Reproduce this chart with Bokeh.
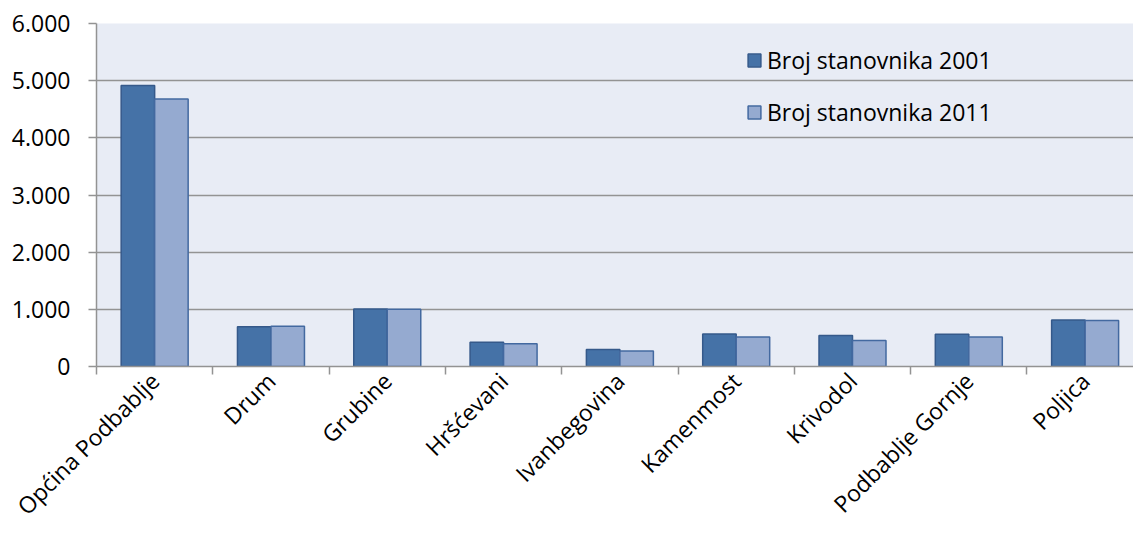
import math
from bokeh.plotting import figure
from bokeh.models import FixedTicker, Range1d, Legend, LegendItem
from bokeh.embed import file_html
from bokeh.resources import INLINE

categories = ["Općina Podbablje", "Drum", "Grubine", "Hršćevani", "Ivanbegovina",
              "Kamenmost", "Krivodol", "Podbablje Gornje", "Poljica"]
pop_2001 = [4915, 695, 1005, 425, 297, 570, 542, 565, 815]
pop_2011 = [4680, 705, 1003, 396, 273, 518, 455, 518, 805]
series_names = ["Broj stanovnika 2001", "Broj stanovnika 2011"]
y_ticks = [0, 1000, 2000, 3000, 4000, 5000, 6000]
y_tick_labels = ["0", "1.000", "2.000", "3.000", "4.000", "5.000", "6.000"]

FONT = "Open Sans"
n = len(categories)
centers = [i + 0.5 for i in range(n)]
bounds = list(range(n + 1))
bar_w = 0.288

p = figure(width=1133, height=535, output_backend="svg", toolbar_location=None,
           x_range=Range1d(0, 8.916), y_range=Range1d(0, 6000),
           min_border_left=96, min_border_right=0, min_border_top=23,
           min_border_bottom=169)
p.background_fill_color = "#E8ECF5"
p.border_fill_color = "white"
p.outline_line_color = None

r1 = p.vbar(x=[c - bar_w / 2 for c in centers], top=pop_2001, width=bar_w, bottom=0,
            fill_color="#4572A7", line_color="#35598A", line_width=1.5)
r2 = p.vbar(x=[c + bar_w / 2 for c in centers], top=pop_2011, width=bar_w, bottom=0,
            fill_color="#95AAD0", line_color="#4369A0", line_width=1.5)

# grid
p.xgrid.grid_line_color = None
p.ygrid.ticker = FixedTicker(ticks=y_ticks)
p.ygrid.grid_line_color = "#939393"
p.ygrid.grid_line_width = 1.5

# y axis
ya = p.yaxis[0]
ya.ticker = FixedTicker(ticks=y_ticks)
ya.major_label_overrides = {t: l for t, l in zip(y_ticks, y_tick_labels)}
ya.major_tick_out = 8
ya.major_tick_in = 0
ya.minor_tick_out = 0
ya.minor_tick_in = 0
ya.axis_line_color = "#939393"
ya.axis_line_width = 1.5
ya.major_tick_line_color = "#939393"
ya.major_tick_line_width = 1.5
ya.major_label_text_font = FONT
ya.major_label_text_font_size = "23px"
ya.major_label_text_color = "black"
ya.major_label_standoff = 18

# x axis: labels at category centres, tick marks at category boundaries
xa = p.xaxis[0]
xa.ticker = FixedTicker(ticks=centers, minor_ticks=bounds)
xa.major_label_overrides = {c: l for c, l in zip(centers, categories)}
xa.major_tick_out = 0
xa.major_tick_in = 0
xa.minor_tick_out = 8
xa.minor_tick_in = 0
xa.minor_tick_line_color = "#939393"
xa.minor_tick_line_width = 1.5
xa.axis_line_color = "#939393"
xa.axis_line_width = 1.5
xa.major_label_orientation = math.pi / 4
xa.major_label_text_font = FONT
xa.major_label_text_font_size = "23px"
xa.major_label_text_color = "black"
xa.major_label_standoff = 2

legend = Legend(items=[LegendItem(label=series_names[0], renderers=[r1]),
                       LegendItem(label=series_names[1], renderers=[r2])],
                location=(650, 238), orientation="vertical")
legend.background_fill_alpha = 0
legend.border_line_color = None
legend.label_text_font = FONT
legend.label_text_font_size = "23px"
legend.label_text_color = "black"
legend.glyph_width = 16
legend.glyph_height = 16
legend.label_standoff = 5
legend.spacing = 20
legend.padding = 0
legend.margin = 0
p.add_layout(legend, "center")

open("out.html", "w").write(file_html(p, INLINE))
